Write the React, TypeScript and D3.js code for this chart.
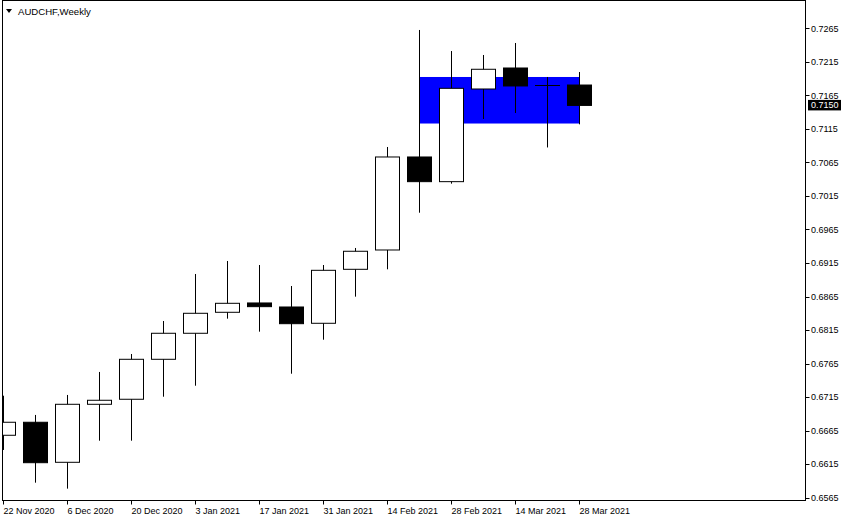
import { useMemo } from 'react';
import * as d3 from 'd3';

// weekly AUDCHF candles
const weeks = [
  '2020-11-22', '2020-11-29', '2020-12-06', '2020-12-13', '2020-12-20',
  '2020-12-27', '2021-01-03', '2021-01-10', '2021-01-17', '2021-01-24',
  '2021-01-31', '2021-02-07', '2021-02-14', '2021-02-21', '2021-02-28',
  '2021-03-07', '2021-03-14', '2021-03-21', '2021-03-28',
];
const opens = [
  0.66581, 0.66775, 0.66178, 0.67043, 0.67118, 0.67714, 0.68102, 0.68415,
  0.68554, 0.68494, 0.68251, 0.69056, 0.69344, 0.70731, 0.70363, 0.71745,
  0.72058, 0.718, 0.71804,
];
const highs = [
  0.67171, 0.66884, 0.67182, 0.67525, 0.67793, 0.68285, 0.68986, 0.6918,
  0.6912, 0.68807, 0.6912, 0.69374, 0.7088, 0.72625, 0.72311, 0.72252,
  0.72431, 0.71924, 0.71998,
];
const lows = [
  0.66362, 0.65874, 0.65785, 0.665, 0.665, 0.67156, 0.6732, 0.6832, 0.68126,
  0.67499, 0.68006, 0.68648, 0.69056, 0.699, 0.70333, 0.71297, 0.71387,
  0.70873, 0.71218,
];
const closes = [
  0.66775, 0.66172, 0.67043, 0.67103, 0.67714, 0.68102, 0.684, 0.68549,
  0.68499, 0.68245, 0.69041, 0.69325, 0.70731, 0.70363, 0.71755, 0.72039,
  0.7179, 0.718, 0.715,
];

// price axis labels
const yTicks = [
  0.7265, 0.7215, 0.7165, 0.7115, 0.7065, 0.7015, 0.6965, 0.6915, 0.6865,
  0.6815, 0.6765, 0.6715, 0.6665, 0.6615, 0.6565,
];

// time axis labels
const xTickDates = [
  '2020-11-22', '2020-12-06', '2020-12-20', '2021-01-03', '2021-01-17',
  '2021-01-31', '2021-02-14', '2021-02-28', '2021-03-14', '2021-03-28',
];
const xTickLabels = [
  '22 Nov 2020', '6 Dec 2020', '20 Dec 2020', '3 Jan 2021', '17 Jan 2021',
  '31 Jan 2021', '14 Feb 2021', '28 Feb 2021', '14 Mar 2021', '28 Mar 2021',
];

// blue rectangle object
const zoneFrom = '2021-02-21';
const zoneTo = '2021-03-28';
const zoneTop = 0.71924;
const zoneBottom = 0.7123;

const currentPrice = 0.715;
const title = 'AUDCHF,Weekly';

const parse = d3.utcParse('%Y-%m-%d');

export default function App() {
  const width = 847;
  const height = 522;
  const plot = { left: 2.5, top: 0.5, right: 805.5, bottom: 500.5 };
  const font = '"Liberation Sans", Arial, sans-serif';

  const { x, y, candles } = useMemo(() => {
    const start = parse(weeks[0])!;
    const end = d3.utcWeek.offset(start, 25);
    const x = d3.scaleUtc().domain([start, end]).range([3.5, 803.5]);
    const y = d3.scaleLinear().domain([0.6565, 0.7265]).range([497.7, 28.3]);
    const candles = weeks.map((w, i) => {
      const o = opens[i];
      const c = closes[i];
      return {
        key: w,
        cx: Math.round(x(parse(w)!) - 0.5) + 0.5,
        yo: y(o),
        yc: y(c),
        yh: y(highs[i]),
        yl: y(lows[i]),
        up: c >= o,
        doji: Math.abs(c - o) < 1e-6,
      };
    });
    return { x, y, candles };
  }, []);

  const half = 12;
  const zx0 = x(parse(zoneFrom)!);
  const zx1 = x(parse(zoneTo)!);
  const priceY = y(currentPrice);

  return (
    <svg
      width={width}
      height={height}
      style={{ position: 'absolute', left: 0, top: 0, background: '#fff' }}
    >
      <defs>
        <clipPath id='plot-clip'>
          <rect
            x={plot.left + 0.5}
            y={plot.top}
            width={plot.right - plot.left - 0.5}
            height={plot.bottom - plot.top}
          />
        </clipPath>
      </defs>

      <g clipPath='url(#plot-clip)'>
        {/* rectangle drawn as background */}
        <rect
          x={zx0}
          y={y(zoneTop)}
          width={zx1 - zx0}
          height={y(zoneBottom) - y(zoneTop)}
          fill='#0000ff'
        />

        {candles.map((d) => {
          const top = Math.min(d.yo, d.yc);
          const bot = Math.max(d.yo, d.yc);
          return (
            <g key={d.key}>
              <line
                x1={d.cx}
                x2={d.cx}
                y1={d.yh}
                y2={d.yl}
                stroke='#000'
                strokeWidth={1}
              />
              {d.doji ? (
                <line
                  x1={d.cx - half - 0.5}
                  x2={d.cx + half + 0.5}
                  y1={Math.round(d.yo) + 0.5}
                  y2={Math.round(d.yo) + 0.5}
                  stroke='#000'
                />
              ) : (
                <rect
                  x={d.cx - half}
                  y={top}
                  width={half * 2}
                  height={Math.max(bot - top, 1)}
                  fill={d.up ? '#fff' : '#000'}
                  stroke='#000'
                  strokeWidth={1}
                />
              )}
            </g>
          );
        })}
      </g>

      {/* frame */}
      <rect
        x={plot.left}
        y={plot.top}
        width={plot.right - plot.left}
        height={plot.bottom - plot.top}
        fill='none'
        stroke='#000'
        strokeWidth={1}
      />

      {/* title */}
      <path d='M6,9 L12,9 L9,13 Z' fill='#000' />
      <text x={18} y={15} fontFamily={font} fontSize={9.6} fill='#000'>
        {title}
      </text>

      {/* price axis */}
      {yTicks.map((t) => (
        <g key={t}>
          <line
            x1={plot.right}
            x2={plot.right + 4}
            y1={Math.round(y(t)) + 0.5}
            y2={Math.round(y(t)) + 0.5}
            stroke='#000'
          />
          <text
            x={811}
            y={y(t) + 3.3}
            fontFamily={font}
            fontSize={9}
            fill='#000'
          >
            {t.toFixed(4)}
          </text>
        </g>
      ))}

      {/* current price tag */}
      <rect
        x={808}
        y={priceY - 5.5}
        width={33}
        height={10.5}
        fill='#000'
      />
      <text
        x={811}
        y={priceY + 3}
        fontFamily={font}
        fontSize={9}
        fill='#fff'
      >
        {currentPrice.toFixed(4)}
      </text>

      {/* time axis */}
      {xTickDates.map((d, i) => {
        const tx = Math.round(x(parse(d)!) - 0.5) + 0.5;
        return (
          <g key={d}>
            <line
              x1={tx}
              x2={tx}
              y1={plot.bottom}
              y2={plot.bottom + 4}
              stroke='#000'
            />
            <text
              x={tx}
              y={514}
              fontFamily={font}
              fontSize={9}
              fill='#000'
            >
              {xTickLabels[i]}
            </text>
          </g>
        );
      })}
    </svg>
  );
}
